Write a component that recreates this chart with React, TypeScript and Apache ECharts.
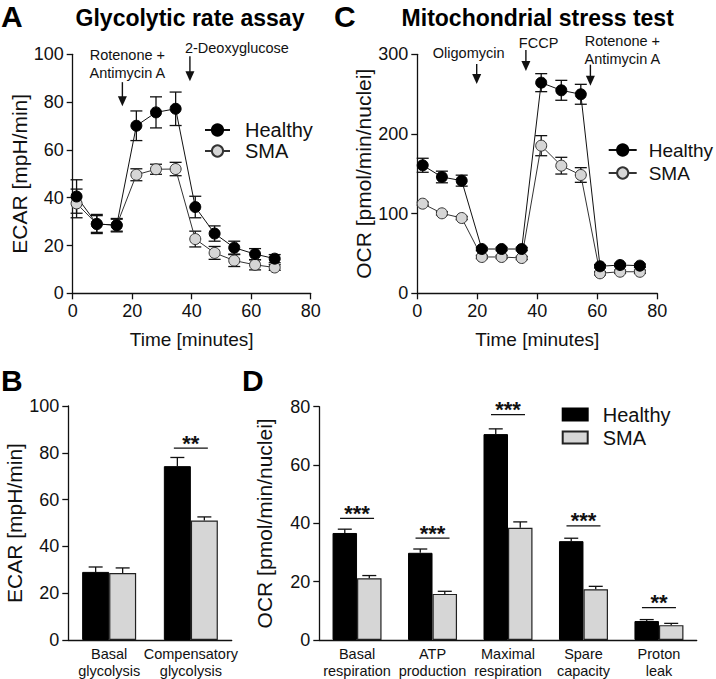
import React, { useEffect, useRef } from "react";
import * as echarts from "echarts";

// ---------- DATA ----------
// Panel A: Glycolytic rate assay (ECAR)
const timeA = [1.3, 8.1, 14.8, 21.4, 28.0, 34.6, 41.2, 47.7, 54.3, 61.3, 67.9];
const healthyA = [40.5, 29.0, 28.5, 70.1, 75.7, 77.2, 36.1, 25.0, 19.1, 16.4, 14.5];
const healthyAErr = [7.0, 4.0, 2.8, 6.2, 6.5, 7.0, 4.5, 3.2, 2.7, 2.3, 1.7];
const smaA = [37.6, 29.0, 28.5, 49.6, 51.9, 52.0, 22.7, 16.9, 13.7, 11.9, 10.8];
const smaAErr = [6.0, 3.5, 2.5, 2.5, 2.1, 2.8, 3.3, 2.7, 2.5, 2.1, 1.2];
const annotATimes = [16.7, 39.4];
const annotATips = [78.3, 88.7];
const annotALabels = ["Rotenone +\nAntimycin A", "2-Deoxyglucose"];

// Panel C: Mitochondrial stress test (OCR)
const timeC = [1.8, 8.2, 14.8, 21.5, 28.1, 34.8, 41.3, 48.0, 54.5, 60.9, 67.6, 74.2];
const healthyC = [160.7, 146, 141.4, 55.6, 55.6, 55.6, 264.4, 254.8, 249.8, 33.9, 35.5, 34.7];
const healthyCErr = [8.8, 7.3, 6.9, 2, 2, 2, 11.3, 12.5, 12.5, 2, 2, 2];
const smaC = [112.5, 100.4, 94.5, 45.6, 45.6, 44.3, 185.3, 160.2, 148.5, 25.1, 27.1, 27.0];
const smaCErr = [2, 2, 2, 2, 2, 2, 12.6, 10.5, 9.2, 2, 2, 2];
const annotCTimes = [19.8, 36.2, 57.7];
const annotCTips = [262.7, 279, 260.6];
const annotCLabels = ["Oligomycin", "FCCP", "Rotenone +\nAntimycin A"];

// Panel B: ECAR bars
const categoriesB = ["Basal\nglycolysis", "Compensatory\nglycolysis"];
const healthyB = [29.1, 74.3];
const healthyBErr = [2.1, 3.7];
const smaB = [28.6, 51.1];
const smaBErr = [2.2, 1.5];
const sigBCats = [1];
const sigBLevels = [82];
const sigBLabels = ["**"];

// Panel D: OCR bars
const categoriesD = [
  "Basal\nrespiration",
  "ATP\nproduction",
  "Maximal\nrespiration",
  "Spare\ncapacity",
  "Proton\nleak",
];
const healthyD = [36.7, 29.9, 70.6, 33.9, 6.5];
const healthyDErr = [1.3, 1.3, 1.8, 1.0, 0.5];
const smaD = [21.2, 15.8, 38.5, 17.4, 5.1];
const smaDErr = [0.9, 0.9, 2.0, 1.0, 0.6];
const sigDCats = [0, 1, 2, 3, 4];
const sigDLevels = [41.7, 34.9, 77.3, 39.1, 11.1];
const sigDLabels = ["***", "***", "***", "***", "**"];

// ---------- STYLE ----------
const FONT = "'Liberation Sans', Arial, Helvetica, sans-serif";
const INK = "#111111";
const GREY = "#d6d6d6";

const annotALayout = [
  { dx: 5, dy: -42, len: 24 },
  { dx: 47, dy: -33, len: 25 },
];
const annotCLayout = [
  { dx: -8, dy: -31, len: 20 },
  { dx: 12.7, dy: -28.3, len: 21 },
  { dx: 32, dy: -35.7, len: 21 },
];

const axisLineStyle = { color: INK, width: 1.3 };

function valueAxis(gridIndex: number, min: number, max: number, interval: number, extra: any = {}) {
  return {
    type: "value",
    gridIndex,
    min,
    max,
    interval,
    axisLine: { show: true, lineStyle: axisLineStyle },
    axisTick: { show: true, length: 6, lineStyle: axisLineStyle },
    axisLabel: { color: INK, fontSize: 18, fontFamily: FONT, margin: 9 },
    splitLine: { show: false },
    ...extra,
  };
}

function categoryAxis(gridIndex: number, data: string[]) {
  return {
    type: "category",
    gridIndex,
    data,
    axisLine: { show: true, lineStyle: axisLineStyle },
    axisTick: { show: false },
    axisLabel: {
      color: INK,
      fontSize: 14.5,
      fontFamily: FONT,
      lineHeight: 17,
      margin: 5,
      interval: 0,
    },
    splitLine: { show: false },
  };
}

function errorLineSeries(name: string, idx: number, xs: number[], ys: number[], es: number[]) {
  return {
    type: "custom",
    name,
    xAxisIndex: idx,
    yAxisIndex: idx,
    z: 1,
    silent: true,
    data: xs.map((x, i) => [x, ys[i], es[i]]),
    encode: { x: 0, y: 1 },
    renderItem: (params: any, api: any) => {
      const x = api.value(0);
      const y = api.value(1);
      const e = api.value(2);
      const top = api.coord([x, y + e]);
      const bot = api.coord([x, y - e]);
      const cap = 6;
      const style = { stroke: INK, lineWidth: 1.3 };
      return {
        type: "group",
        children: [
          { type: "line", shape: { x1: top[0], y1: top[1], x2: bot[0], y2: bot[1] }, style },
          { type: "line", shape: { x1: top[0] - cap, y1: top[1], x2: top[0] + cap, y2: top[1] }, style },
          { type: "line", shape: { x1: bot[0] - cap, y1: bot[1], x2: bot[0] + cap, y2: bot[1] }, style },
        ],
      };
    },
  };
}

function errorBarSeries(name: string, idx: number, ys: number[], es: number[], offset: number, cap: number) {
  return {
    type: "custom",
    name,
    xAxisIndex: idx,
    yAxisIndex: idx,
    z: 3,
    silent: true,
    data: ys.map((y, i) => [i, y, es[i]]),
    encode: { x: 0, y: 1 },
    renderItem: (params: any, api: any) => {
      const c = api.value(0);
      const y = api.value(1);
      const e = api.value(2);
      const base = api.coord([c, y]);
      const top = api.coord([c, y + e]);
      const x = base[0] + offset;
      const style = { stroke: INK, lineWidth: 1.3 };
      return {
        type: "group",
        children: [
          { type: "line", shape: { x1: x, y1: base[1], x2: x, y2: top[1] }, style },
          { type: "line", shape: { x1: x - cap, y1: top[1], x2: x + cap, y2: top[1] }, style },
        ],
      };
    },
  };
}

function sigSeries(name: string, idx: number, cats: number[], levels: number[], labels: string[]) {
  return {
    type: "custom",
    name,
    xAxisIndex: idx,
    yAxisIndex: idx,
    z: 4,
    silent: true,
    data: cats.map((c, i) => [c, levels[i]]),
    encode: { x: 0, y: 1 },
    renderItem: (params: any, api: any) => {
      const p = api.coord([api.value(0), api.value(1)]);
      const half = 17;
      return {
        type: "group",
        children: [
          {
            type: "line",
            shape: { x1: p[0] - half, y1: p[1], x2: p[0] + half, y2: p[1] },
            style: { stroke: INK, lineWidth: 1.3 },
          },
          {
            type: "text",
            style: {
              text: labels[params.dataIndex],
              x: p[0],
              y: p[1] - 5,
              align: "center",
              verticalAlign: "middle",
              fontSize: 22,
              fontWeight: "bold",
              fontFamily: FONT,
              fill: INK,
            },
          },
        ],
      };
    },
  };
}

function arrowSeries(name: string, idx: number, times: number[], tips: number[], labels: string[], layout: any[]) {
  return {
    type: "custom",
    name,
    xAxisIndex: idx,
    yAxisIndex: idx,
    z: 5,
    silent: true,
    clip: false,
    data: times.map((t, i) => [t, tips[i]]),
    encode: { x: 0, y: 1 },
    renderItem: (params: any, api: any) => {
      const p = api.coord([api.value(0), api.value(1)]);
      const lay = layout[params.dataIndex];
      const x = p[0];
      const y = p[1];
      return {
        type: "group",
        children: [
          {
            type: "line",
            shape: { x1: x, y1: y - lay.len, x2: x, y2: y - 8 },
            style: { stroke: INK, lineWidth: 1.4 },
          },
          {
            type: "polygon",
            shape: { points: [[x - 4.5, y - 10], [x + 4.5, y - 10], [x, y]] },
            style: { fill: INK },
          },
          {
            type: "text",
            style: {
              text: labels[params.dataIndex],
              x: x + lay.dx,
              y: y + lay.dy,
              align: "center",
              verticalAlign: "middle",
              fontSize: 14.5,
              lineHeight: 18,
              fontFamily: FONT,
              fill: INK,
            },
          },
        ],
      };
    },
  };
}

function lineSeries(name: string, idx: number, xs: number[], ys: number[], healthy: boolean) {
  return {
    type: "line",
    name,
    xAxisIndex: idx,
    yAxisIndex: idx,
    z: 2,
    data: xs.map((x, i) => [x, ys[i]]),
    symbol: "circle",
    symbolSize: 11,
    lineStyle: { color: healthy ? INK : "#333", width: 1 },
    itemStyle: healthy
      ? { color: "#000", borderColor: "#000", borderWidth: 1 }
      : { color: GREY, borderColor: "#333", borderWidth: 1 },
  };
}

function barSeries(name: string, idx: number, ys: number[], healthy: boolean, width: number) {
  return {
    type: "bar",
    name,
    xAxisIndex: idx,
    yAxisIndex: idx,
    z: 2,
    data: ys,
    barWidth: width,
    barGap: "0%",
    itemStyle: healthy
      ? { color: "#000", borderColor: "#000", borderWidth: 1 }
      : { color: GREY, borderColor: "#222", borderWidth: 1.2 },
  };
}

const letterStyle = { fontSize: 30, fontWeight: "bold", fontFamily: FONT, fill: "#000" };

export default function App() {
  const ref = useRef<HTMLDivElement>(null);

  useEffect(() => {
    document.body.style.margin = "0";
    if (!ref.current) return;
    const chart = echarts.init(ref.current, undefined, { renderer: "svg" });

    const barW_B = 27;
    const barW_D = 24.5;

    const option: any = {
      animation: false,
      backgroundColor: "#ffffff",
      textStyle: { fontFamily: FONT },
      grid: [
        { left: 72.7, top: 54.3, width: 238, height: 239 },
        { left: 417.3, top: 54.3, width: 240, height: 239 },
        { left: 68.3, top: 406, width: 163.4, height: 235 },
        { left: 319.3, top: 406.7, width: 377.4, height: 235 },
      ],
      xAxis: [
        valueAxis(0, 0, 80, 20, {
          name: "Time [minutes]",
          nameLocation: "middle",
          nameGap: 37,
          nameTextStyle: { color: INK, fontSize: 19, fontFamily: FONT },
        }),
        valueAxis(1, 0, 80, 20, {
          name: "Time [minutes]",
          nameLocation: "middle",
          nameGap: 37,
          nameTextStyle: { color: INK, fontSize: 19, fontFamily: FONT },
        }),
        categoryAxis(2, categoriesB),
        categoryAxis(3, categoriesD),
      ],
      yAxis: [
        valueAxis(0, 0, 100, 20, {
          name: "ECAR [mpH/min]",
          nameLocation: "middle",
          nameGap: 40,
          nameTextStyle: { color: INK, fontSize: 21, fontFamily: FONT },
        }),
        valueAxis(1, 0, 300, 100, {
          name: "OCR [pmol/min/nuclei]",
          nameLocation: "middle",
          nameGap: 38,
          nameTextStyle: { color: INK, fontSize: 21, fontFamily: FONT },
        }),
        valueAxis(2, 0, 100, 20, {
          name: "ECAR [mpH/min]",
          nameLocation: "middle",
          nameGap: 37,
          nameTextStyle: { color: INK, fontSize: 21, fontFamily: FONT },
        }),
        valueAxis(3, 0, 80, 20, {
          name: "OCR [pmol/min/nuclei]",
          nameLocation: "middle",
          nameGap: 44,
          nameTextStyle: { color: INK, fontSize: 21, fontFamily: FONT },
        }),
      ],
      legend: [
        {
          data: ["Healthy", "SMA"],
          orient: "vertical",
          left: 204,
          top: 120,
          padding: 0,
          itemWidth: 25,
          itemHeight: 14,
          itemGap: 1,
          selectedMode: false,
          textStyle: { color: INK, fontSize: 20, fontFamily: FONT, lineHeight: 20, padding: [0, 0, 0, 10] },
        },
        {
          data: ["Healthy", "SMA"],
          orient: "vertical",
          left: 607.7,
          top: 140,
          padding: 0,
          itemWidth: 28,
          itemHeight: 14,
          itemGap: 3,
          selectedMode: false,
          textStyle: { color: INK, fontSize: 19, fontFamily: FONT, lineHeight: 20, padding: [0, 0, 0, 7] },
        },
        {
          data: ["Healthy·bar", "SMA·bar"],
          formatter: (n: string) => n.replace("·bar", ""),
          orient: "vertical",
          left: 561.7,
          top: 404.5,
          padding: 0,
          icon: "rect",
          itemWidth: 25,
          itemHeight: 12,
          itemGap: 3,
          selectedMode: false,
          textStyle: { color: INK, fontSize: 20, fontFamily: FONT, lineHeight: 20, padding: [0, 0, 0, 10] },
        },
      ],
      graphic: [
        { type: "text", left: 1, top: 1, style: { text: "A", ...letterStyle } },
        { type: "text", left: 334, top: 1, style: { text: "C", ...letterStyle } },
        { type: "text", left: 1, top: 365, style: { text: "B", ...letterStyle } },
        { type: "text", left: 242, top: 365, style: { text: "D", ...letterStyle } },
        {
          type: "text",
          x: 190,
          y: 17.5,
          style: { text: "Glycolytic rate assay", align: "center", verticalAlign: "middle", fontSize: 23, fontWeight: "bold", fontFamily: FONT, fill: "#000" },
        },
        {
          type: "text",
          x: 537.7,
          y: 17.5,
          style: { text: "Mitochondrial stress test", align: "center", verticalAlign: "middle", fontSize: 23, fontWeight: "bold", fontFamily: FONT, fill: "#000" },
        },
      ],
      series: [
        errorLineSeries("errA-H", 0, timeA, healthyA, healthyAErr),
        errorLineSeries("errA-S", 0, timeA, smaA, smaAErr),
        lineSeries("SMA", 0, timeA, smaA, false),
        lineSeries("Healthy", 0, timeA, healthyA, true),
        arrowSeries("annA", 0, annotATimes, annotATips, annotALabels, annotALayout),

        errorLineSeries("errC-H", 1, timeC, healthyC, healthyCErr),
        errorLineSeries("errC-S", 1, timeC, smaC, smaCErr),
        lineSeries("SMA", 1, timeC, smaC, false),
        lineSeries("Healthy", 1, timeC, healthyC, true),
        arrowSeries("annC", 1, annotCTimes, annotCTips, annotCLabels, annotCLayout),

        barSeries("Healthy·bar", 2, healthyB, true, barW_B),
        barSeries("SMA·bar", 2, smaB, false, barW_B),
        errorBarSeries("errB-H", 2, healthyB, healthyBErr, -barW_B / 2, 7),
        errorBarSeries("errB-S", 2, smaB, smaBErr, barW_B / 2, 7),
        sigSeries("sigB", 2, sigBCats, sigBLevels, sigBLabels),

        barSeries("Healthy·bar", 3, healthyD, true, barW_D),
        barSeries("SMA·bar", 3, smaD, false, barW_D),
        errorBarSeries("errD-H", 3, healthyD, healthyDErr, -barW_D / 2, 7),
        errorBarSeries("errD-S", 3, smaD, smaDErr, barW_D / 2, 7),
        sigSeries("sigD", 3, sigDCats, sigDLevels, sigDLabels),
      ],
    };

    chart.setOption(option);
    return () => {
      chart.dispose();
    };
  }, []);

  return <div ref={ref} style={{ width: 716, height: 679 }} />;
}
